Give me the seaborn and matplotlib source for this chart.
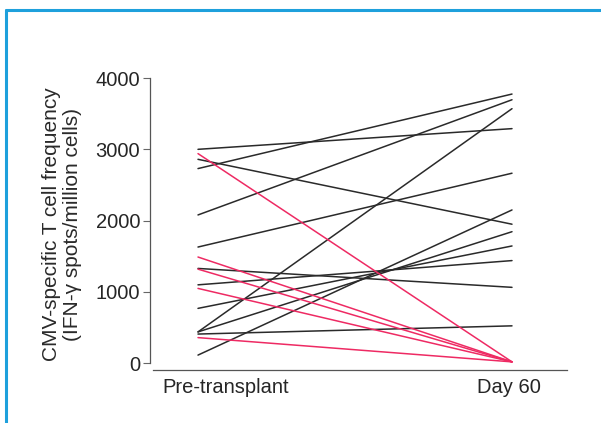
import numpy as np
import pandas as pd
import seaborn as sns
import matplotlib.pyplot as plt
from matplotlib.lines import Line2D
from matplotlib.transforms import ScaledTranslation

# CMV-specific T cell frequency (IFN-gamma spots / million cells) per patient
timepoints = ["Pre-transplant", "Day 60"]

# patients who kept a measurable response at day 60
pre_kept = [3000, 2860, 2730, 2080, 1630, 1330, 1100, 770, 440, 440, 410, 115]
day60_kept = [3290, 1950, 3775, 3695, 2665, 1065, 1440, 1645, 1845, 3570, 525, 2150]

# patients whose response was lost by day 60
pre_lost = [2940, 1490, 1320, 1050, 360]
day60_lost = [20, 20, 20, 20, 20]

rows = []
for grp, pre, post in (("kept", pre_kept, day60_kept), ("lost", pre_lost, day60_lost)):
    for i, (a, b) in enumerate(zip(pre, post)):
        pid = f"{grp}{i}"
        rows.append({"patient": pid, "group": grp, "tp": 0, "value": a})
        rows.append({"patient": pid, "group": grp, "tp": 1, "value": b})
df = pd.DataFrame(rows)

sns.set_theme(style="white")
plt.rcParams["font.family"] = ["Liberation Sans", "DejaVu Sans"]
plt.rcParams["text.color"] = "#1a1a1a"

fig = plt.figure(figsize=(6.01, 4.23), dpi=100)
W, H = 601, 423
ax = fig.add_axes([150 / W, 1 - 370 / H, (567 - 150) / W, (370 - 78) / H])

sns.lineplot(
    data=df, x="tp", y="value", units="patient", estimator=None,
    hue="group", hue_order=["kept", "lost"],
    palette={"kept": "#2a2a2a", "lost": "#ee2a63"},
    linewidth=1.1, legend=False, ax=ax,
)

ax.set_xlim(-48 / 314, 1 + 55 / 314)
ax.set_ylim(-94, 4000)

ax.set_yticks([0, 1000, 2000, 3000, 4000])
ax.set_yticklabels(["0", "1000", "2000", "3000", "4000"], fontsize=14.5)
ax.set_xticks([0, 1])
ax.set_xticklabels(timepoints, fontsize=14.5)
ax.tick_params(axis="y", left=True, length=5, width=0.8, color="#666666", pad=2)
ax.tick_params(axis="x", bottom=False, length=0, pad=6)

# shift the category labels to their printed places
shifts = [28, -3]
for lab, dx in zip(ax.get_xticklabels(), shifts):
    lab.set_transform(lab.get_transform() + ScaledTranslation(dx / 100, 0, fig.dpi_scale_trans))

ax.set_xlabel("")
ax.set_ylabel("CMV-specific T cell frequency\n(IFN-\u03b3 spots/million cells)", fontsize=15,
              color="#2a2a2a", linespacing=1.15, labelpad=10)

for s in ("top", "right"):
    ax.spines[s].set_visible(False)
ax.spines["left"].set_bounds(0, 4000)
ax.spines["bottom"].set_bounds(-48 / 314 + 3 / 314, 1 + 55 / 314)
for s in ("left", "bottom"):
    ax.spines[s].set_color("#555555")
    ax.spines[s].set_linewidth(0.9)

# blue frame along the top and left edges
blue = "#1ea0dc"
fig.add_artist(Line2D([5.5 / W, 1], [1 - 10.5 / H] * 2, transform=fig.transFigure, color=blue, lw=2.2))
fig.add_artist(Line2D([5.5 / W] * 2, [0, 1 - 10.5 / H], transform=fig.transFigure, color=blue, lw=2.2))

fig.savefig("out.png", dpi=100)
